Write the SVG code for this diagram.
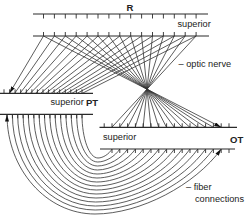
<svg xmlns="http://www.w3.org/2000/svg" width="250" height="218" viewBox="0 0 250 218">
<style>
.bar{stroke:#2a2a2a;stroke-width:1.2;fill:none}
.tick{stroke:#2a2a2a;stroke-width:0.9;fill:none}
.con{stroke:#333;stroke-width:0.8;fill:none}
.lbl{font-family:"Liberation Sans",Arial,sans-serif;font-size:9.2px;fill:#222}
.ttl{font-family:"Liberation Sans",Arial,sans-serif;font-size:9.5px;font-weight:bold;fill:#222}
</style>
<defs>
<marker id="ah" viewBox="0 0 7 4" refX="7" refY="2" markerWidth="7" markerHeight="4" markerUnits="userSpaceOnUse" orient="auto-start-reverse">
<path d="M0,0 L7,2 L0,4 z" fill="#111"/>
</marker>
</defs>
<rect width="250" height="218" fill="#fff"/>
<g id="connectors">
<g id="r-to-pt">
<path class="con" d="M43.5,36L9.5,93.3" marker-end="url(#ah)"/>
<path class="con" d="M54.4,36L14.7,93.3M65.3,36L19.9,93.3M76.2,36L25.1,93.3M87.1,36L30.3,93.3M98,36L35.5,93.3M108.9,36L40.7,93.3M119.8,36L45.9,93.3M130.7,36L51.1,93.3M141.6,36L56.3,93.3M152.5,36L61.5,93.3M163.4,36L66.7,93.3M174.3,36L71.9,93.3M185.2,36L77.1,93.3M196.1,36L82.3,93.3"/>
</g>
<g id="r-to-ot">
<path class="con" d="M43.5,36L221.2,127.3" marker-end="url(#ah)"/>
<path class="con" d="M54.4,36L213.4,127.3M65.3,36L205.6,127.3M76.2,36L197.8,127.3M87.1,36L189.9,127.3M98,36L182.1,127.3M108.9,36L174.3,127.3M119.8,36L166.5,127.3M130.7,36L158.7,127.3M141.6,36L150.9,127.3M152.5,36L143.1,127.3M163.4,36L135.2,127.3M174.3,36L127.4,127.3M185.2,36L119.6,127.3M196.1,36L111.8,127.3"/>
</g>
<g id="pt-to-ot">
<path class="con" d="M7,114.5 C7,169.5 46.6,214 95,214 C140.1,214 195.2,185 221.2,149" marker-start="url(#ah)" marker-end="url(#ah)"/>
<path class="con" d="M12.4,114.5 C12.4,167.3 49.6,210 95.2,210 C137.4,210 189.1,182.8 213.4,149"/>
<path class="con" d="M17.7,114.5 C17.7,165.1 52.7,206 95.4,206 C134.8,206 182.9,180.6 205.6,149"/>
<path class="con" d="M23.1,114.5 C23.1,162.9 55.7,202 95.6,202 C132.1,202 176.8,178.4 197.8,149"/>
<path class="con" d="M28.4,114.5 C28.4,160.7 58.8,198 95.9,198 C129.5,198 170.6,176.1 190,149"/>
<path class="con" d="M33.8,114.5 C33.8,158.5 61.8,194 96.1,194 C126.8,194 164.5,173.9 182.2,149"/>
<path class="con" d="M39.2,114.5 C39.2,156.3 64.9,190 96.3,190 C124.2,190 158.3,171.7 174.4,149"/>
<path class="con" d="M44.5,114.5 C44.5,154.1 67.9,186 96.5,186 C121.5,186 152.2,169.5 166.6,149"/>
<path class="con" d="M49.9,114.5 C49.9,151.9 71,182 96.7,182 C118.9,182 146,167.3 158.8,149"/>
<path class="con" d="M55.2,114.5 C55.2,149.7 74,178 96.9,178 C116.2,178 139.9,165.1 151,149"/>
<path class="con" d="M60.6,114.5 C60.6,147.5 77,174 97.1,174 C113.6,174 133.7,162.9 143.2,149"/>
<path class="con" d="M66,114.5 C66,145.3 80.1,170 97.4,170 C110.9,170 127.6,160.6 135.4,149"/>
<path class="con" d="M71.3,114.5 C71.3,143.1 83.1,166 97.6,166 C108.3,166 121.4,158.4 127.6,149"/>
<path class="con" d="M76.7,114.5 C76.7,140.9 86.2,162 97.8,162 C105.7,162 115.3,156.2 119.8,149"/>
<path class="con" d="M82,114.5 C82,138.7 89.2,158 98,158 C103,158 109.1,154 112,149"/>
</g>
</g>
<g id="R">
<path class="bar" d="M33,14H208M33,36H209"/>
<path class="tick" d="M43.5,14v4.5M54.4,14v4.5M65.3,14v4.5M76.2,14v4.5M87.1,14v4.5M98,14v4.5M108.9,14v4.5M119.8,14v4.5M130.7,14v4.5M141.6,14v4.5M152.5,14v4.5M163.4,14v4.5M174.3,14v4.5M185.2,14v4.5M196.1,14v4.5"/>
<path class="tick" d="M43.5,36v-4M54.4,36v-4M65.3,36v-4M76.2,36v-4M87.1,36v-4M98,36v-4M108.9,36v-4M119.8,36v-4M130.7,36v-4M141.6,36v-4M152.5,36v-4M163.4,36v-4M174.3,36v-4M185.2,36v-4M196.1,36v-4"/>
<text class="ttl" x="130" y="11" text-anchor="middle">R</text>
<text class="lbl" x="177.5" y="27">superior</text>
</g>
<g id="PT">
<path class="bar" d="M0,93.3H93M0,114.3H93"/>
<path class="tick" d="M4,93.3v-4M9.6,93.3v-4M15.1,93.3v-4M20.7,93.3v-4M26.3,93.3v-4M31.9,93.3v-4M37.4,93.3v-4M43,93.3v-4M48.6,93.3v-4M54.1,93.3v-4M59.7,93.3v-4M65.3,93.3v-4M70.8,93.3v-4M76.4,93.3v-4M82,93.3v-4"/>
<path class="tick" d="M7,114.3v4M12.4,114.3v4M17.7,114.3v4M23.1,114.3v4M28.4,114.3v4M33.8,114.3v4M39.2,114.3v4M44.5,114.3v4M49.9,114.3v4M55.2,114.3v4M60.6,114.3v4M66,114.3v4M71.3,114.3v4M76.7,114.3v4M82,114.3v4"/>
<text class="lbl" x="50.5" y="104.5">superior</text>
<text class="ttl" x="86" y="105.5">PT</text>
</g>
<g id="OT">
<path class="bar" d="M99.5,127.3H237M100,149H235"/>
<path class="tick" d="M104.2,127.3v-4M112,127.3v-4M119.8,127.3v-4M127.6,127.3v-4M135.4,127.3v-4M143.2,127.3v-4M151,127.3v-4M158.8,127.3v-4M166.6,127.3v-4M174.4,127.3v-4M182.2,127.3v-4M190,127.3v-4M197.8,127.3v-4M205.6,127.3v-4M213.4,127.3v-4M221.2,127.3v-4M229,127.3v-4"/>
<path class="tick" d="M112,149v4M119.8,149v4M127.6,149v4M135.4,149v4M143.2,149v4M151,149v4M158.8,149v4M166.6,149v4M174.4,149v4M182.2,149v4M190,149v4M197.8,149v4M205.6,149v4M213.4,149v4M221.2,149v4M229,149v4"/>
<text class="lbl" x="103" y="140">superior</text>
<text class="ttl" x="230" y="143">OT</text>
</g>
<g id="labels">
<text class="lbl" x="178.5" y="66.5">– optic nerve</text>
<text class="lbl" x="186" y="190">– fiber</text>
<text class="lbl" x="195" y="201.5">connections</text>
</g>
</svg>
